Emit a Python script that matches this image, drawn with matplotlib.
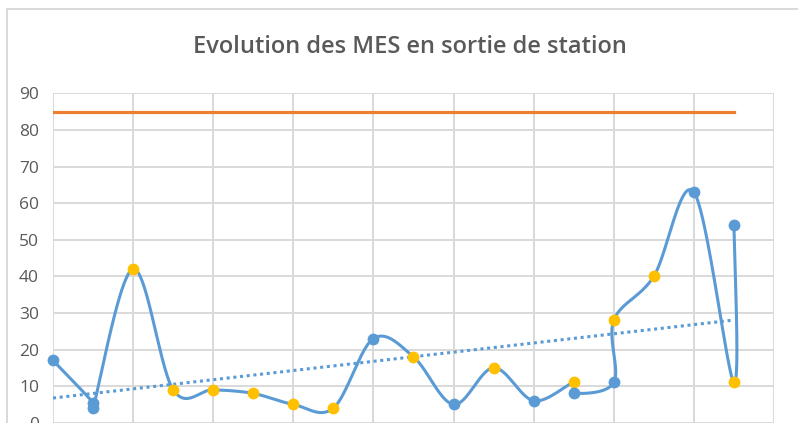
import numpy as np
import matplotlib.pyplot as plt
from matplotlib.lines import Line2D

# points du suivi (abscisse = rang du prélèvement)
jours = [0, 1, 1, 2, 3, 4, 5, 6, 7, 8, 9, 10, 11, 12, 13, 13, 14, 14, 15, 16, 17, 17]
mes = [17, 5.5, 4, 42, 9, 9, 8, 5, 4, 23, 18, 5, 15, 6, 11, 8, 11, 28, 40, 63, 11, 54]
couleurs = ['b', 'b', 'b', 'y', 'y', 'y', 'y', 'y', 'y', 'b', 'y', 'b',
            'y', 'b', 'y', 'b', 'b', 'y', 'y', 'b', 'y', 'b']
seuil = 85

BLEU = '#5b9bd5'
JAUNE = '#ffc000'
ORANGE = '#ed7d31'
GRIS = '#595959'
GRILLE = '#d9d9d9'


def lisser(xs, ys, sx=40.0, sy=3.66, n=40):
    # courbe lissée façon Excel (Bezier / Catmull-Rom), calculée en pixels
    p = np.column_stack([np.array(xs) * sx, np.array(ys) * sy]).astype(float)
    morceaux = []
    t = np.linspace(0, 1, n)[:, None]
    for i in range(len(p) - 1):
        p0 = p[max(i - 1, 0)]
        p1 = p[i]
        p2 = p[i + 1]
        p3 = p[min(i + 2, len(p) - 1)]
        L = np.hypot(*(p2 - p1))
        d1 = (p2 - p0) / 6
        d2 = (p3 - p1) / 6
        # on évite les boucles sur les segments très courts
        for d in (d1, d2):
            nd = np.hypot(*d)
            if nd > 0.6 * L and nd > 0:
                d *= 0.6 * L / nd
        c1 = p1 + d1
        c2 = p2 - d2
        seg = (1 - t) ** 3 * p1 + 3 * (1 - t) ** 2 * t * c1 + 3 * (1 - t) * t ** 2 * c2 + t ** 3 * p2
        morceaux.append(seg)
    pts = np.vstack(morceaux)
    return pts[:, 0] / sx, pts[:, 1] / sy


plt.rcParams['font.family'] = ['Open Sans', 'DejaVu Sans']

fig = plt.figure(figsize=(7.98, 4.23), dpi=100)
ax = fig.add_axes([53 / 798, 0.3 / 423, 721 / 798, 329.4 / 423])

ax.set_xlim(0, 18)
ax.set_ylim(0, 90)
ax.set_xticks(np.arange(0, 19, 2))
ax.set_yticks(np.arange(0, 91, 10))
ax.set_xticklabels([])
ax.grid(True, color=GRILLE, linewidth=1.4)
ax.set_axisbelow(True)
for s in ax.spines.values():
    s.set_visible(False)
ax.tick_params(axis='both', length=0)
ax.tick_params(axis='y', pad=10, labelsize=12.5, labelcolor=GRIS)

# limite
ax.plot([jours[0], jours[-1]], [seuil, seuil], color=ORANGE, linewidth=2.3, zorder=3)

# tendance linéaire
a, b = np.polyfit(jours, mes, 1)
xt = np.array([jours[0], jours[-1]])
ax.plot(xt, a * xt + b, color=BLEU, linewidth=2.2, linestyle=(0, (1, 1.2)), zorder=3)

# courbe lissée
xs, ys = lisser(jours, mes)
ax.plot(xs, ys, color=BLEU, linewidth=2.2, zorder=4, clip_on=False, solid_capstyle='round')

for x, y, c in zip(jours, mes, couleurs):
    ax.plot(x, y, 'o', markersize=8.5, color=BLEU if c == 'b' else JAUNE,
            markeredgewidth=0, zorder=5, clip_on=False)

fig.text(410 / 798, 1 - 46.7 / 423, 'Evolution des MES en sortie de station',
         ha='center', va='center', fontsize=17, fontweight='semibold', color=GRIS)

# cadre du graphique
fig.add_artist(Line2D([7 / 798, 7 / 798], [0, 1 - 9 / 423], color=GRILLE, linewidth=1.4,
                      transform=fig.transFigure))
fig.add_artist(Line2D([7 / 798, 1], [1 - 9 / 423, 1 - 9 / 423], color=GRILLE, linewidth=1.4,
                      transform=fig.transFigure))

fig.savefig('out.png', dpi=100)
